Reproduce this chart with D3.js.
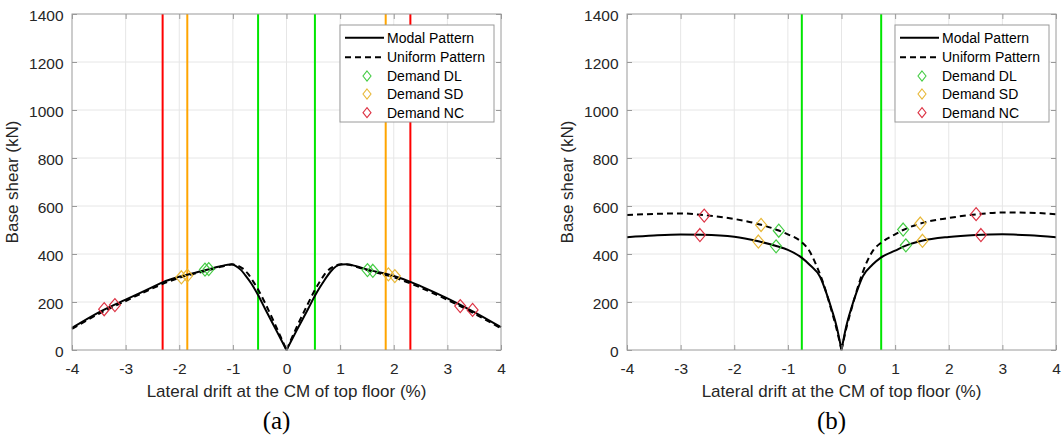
<!DOCTYPE html>
<html><head><meta charset="utf-8">
<script src="https://cdn.jsdelivr.net/npm/d3@7"></script>
<style>
body{margin:0;background:#fff}
svg{display:block}
text{font-family:Arial,"Liberation Sans",Helvetica,sans-serif}
</style>
</head><body>
<svg id="c" width="1062" height="435"></svg>
<script>
// ---------- data ----------
const xTicks = [-4,-3,-2,-1,0,1,2,3,4];
const yTicks = [0,200,400,600,800,1000,1200,1400];
const xTickLabels = ["-4","-3","-2","-1","0","1","2","3","4"];
const yTickLabels = ["0","200","400","600","800","1000","1200","1400"];
const legendLabels = ["Modal Pattern","Uniform Pattern","Demand DL","Demand SD","Demand NC"];
const xLabel = "Lateral drift at the CM of top floor (%)";
const yLabel = "Base shear (kN)";
const panelLabels = ["(a)","(b)"];

// Panel (a) pushover curves [drift %, base shear kN]
const modalA = [[-4,92],[-3.5,157],[-3,210],[-2.5,262],[-2.3,283],[-2,305],[-1.5,333],[-1.25,348],[-1.02,357],[-0.95,351],[-0.85,334],[-0.77,312],[-0.65,275],[-0.53,229],[-0.4,172],[-0.2,86],[0,0],
  [0.2,86],[0.4,170],[0.53,226],[0.62,260],[0.72,295],[0.82,326],[0.92,348],[1.02,356],[1.12,357],[1.3,349],[1.5,336],[2,308],[2.3,285],[2.5,266],[3,215],[3.5,158],[4,95]];
const uniformA = [[-4,88],[-3.5,151],[-3,204],[-2.5,257],[-2,301],[-1.5,330],[-1.2,348],[-1.02,356],[-0.92,352],[-0.82,340],[-0.72,318],[-0.62,285],[-0.53,252],[-0.4,196],[-0.2,100],[0,0],
  [0.2,100],[0.4,193],[0.53,250],[0.62,284],[0.72,318],[0.82,340],[0.92,352],[1.02,357],[1.12,356],[1.5,333],[2,303],[2.5,260],[3,209],[3.5,152],[4,90]];
const demandDL_A = [[-1.52,335],[-1.45,337],[1.51,333],[1.61,330]];
const demandSD_A = [[-1.96,303],[-1.85,310],[1.90,315],[2.02,308]];
const demandNC_A = [[-3.40,170],[-3.20,187],[3.24,183],[3.47,167]];
const limitDL_A = [-0.53,0.53];
const limitSD_A = [-1.85,1.85];
const limitNC_A = [-2.31,2.31];

// Panel (b)
const modalB = [[-4,470],[-3.5,477],[-3,481],[-2.6,480],[-2,472],[-1.55,453],[-1.2,432],[-1,417],[-0.75,386],[-0.59,354],[-0.4,305],[-0.28,236],[-0.18,167],[-0.09,97],[0,0],
  [0.09,100],[0.18,172],[0.28,240],[0.4,308],[0.58,356],[0.74,386],[1,414],[1.2,435],[1.5,455],[2,471],[2.5,479],[3,482],[3.5,478],[4,470]];
const uniformB = [[-4,562],[-3.5,567],[-3,569],[-2.56,562],[-2,546],[-1.5,522],[-1.17,498],[-1,482],[-0.75,451],[-0.62,420],[-0.46,348],[-0.33,272],[-0.2,175],[-0.1,95],[0,0],
  [0.1,100],[0.2,182],[0.33,280],[0.45,355],[0.6,418],[0.74,447],[1,482],[1.15,500],[1.47,527],[2,550],[2.5,565],[3,573],[3.5,572],[4,566]];
const demandDL_B = [[-1.22,432],[-1.17,497],[1.15,502],[1.2,436]];
const demandSD_B = [[-1.55,452],[-1.5,521],[1.47,527],[1.51,455]];
const demandNC_B = [[-2.64,479],[-2.56,560],[2.51,566],[2.60,479]];
const limitDL_B = [-0.74,0.74];

// ---------- styles ----------
const C = {grid:"#e6e6e6", frame:"#9a9a9a", text:"#262626",
  lineDL:"#00e600", lineSD:"#ffa500", lineNC:"#ff0000",
  mkDL:"#44cc44", mkSD:"#e8b838", mkNC:"#dd3344"};

const svg = d3.select("#c");
const TOP = 14, BOTTOM = 350;

const panels = [
  {left:72, right:501, modal:modalA, uniform:uniformA,
   demands:[[demandDL_A,C.mkDL],[demandSD_A,C.mkSD],[demandNC_A,C.mkNC]],
   limits:[[limitNC_A,C.lineNC],[limitSD_A,C.lineSD],[limitDL_A,C.lineDL]], label:panelLabels[0]},
  {left:627, right:1056, modal:modalB, uniform:uniformB,
   demands:[[demandDL_B,C.mkDL],[demandSD_B,C.mkSD],[demandNC_B,C.mkNC]],
   limits:[[limitDL_B,C.lineDL]], label:panelLabels[1]}
];

function diamondPath(cx, cy, w, h){
  return `M${cx},${cy-h/2}L${cx+w/2},${cy}L${cx},${cy+h/2}L${cx-w/2},${cy}Z`;
}

panels.forEach(p => {
  const x = d3.scaleLinear().domain([-4,4]).range([p.left,p.right]);
  const y = d3.scaleLinear().domain([0,1400]).range([BOTTOM,TOP]);
  const g = svg.append("g");

  // grid
  g.append("g").selectAll("line").data(xTicks.slice(1,-1)).join("line")
    .attr("x1",d=>x(d)).attr("x2",d=>x(d)).attr("y1",TOP).attr("y2",BOTTOM)
    .attr("stroke",C.grid).attr("stroke-width",1);
  g.append("g").selectAll("line").data(yTicks.slice(1,-1)).join("line")
    .attr("y1",d=>y(d)).attr("y2",d=>y(d)).attr("x1",p.left).attr("x2",p.right)
    .attr("stroke",C.grid).attr("stroke-width",1);

  // limit lines
  p.limits.forEach(([vals,col]) => {
    g.append("g").selectAll("line").data(vals).join("line")
      .attr("x1",d=>x(d)).attr("x2",d=>x(d)).attr("y1",TOP).attr("y2",BOTTOM)
      .attr("stroke",col).attr("stroke-width",2);
  });

  // curves, split at zero so the tip stays sharp
  const line = d3.line().x(d=>x(d[0])).y(d=>y(d[1])).curve(d3.curveMonotoneX);
  const halves = arr => [arr.filter(d=>d[0]<=0), arr.filter(d=>d[0]>=0)];
  const pathOf = arr => halves(arr).map(h=>line(h)).join("");
  g.append("path").attr("d",pathOf(p.uniform)).attr("fill","none")
    .attr("stroke","#000").attr("stroke-width",2).attr("stroke-dasharray","6,4");
  g.append("path").attr("d",pathOf(p.modal)).attr("fill","none")
    .attr("stroke","#000").attr("stroke-width",2);

  // demand markers
  p.demands.forEach(([pts,col]) => {
    g.append("g").selectAll("path").data(pts).join("path")
      .attr("d",d=>diamondPath(x(d[0]),y(d[1]),11,13))
      .attr("fill","none").attr("stroke",col).attr("stroke-width",1.2);
  });

  // frame
  g.append("rect").attr("x",p.left).attr("y",TOP).attr("width",p.right-p.left).attr("height",BOTTOM-TOP)
    .attr("fill","none").attr("stroke",C.frame).attr("stroke-width",1);

  // axes
  const ax = g.append("g").attr("transform",`translate(0,${BOTTOM})`)
    .call(d3.axisBottom(x).tickValues(xTicks).tickFormat((d,i)=>xTickLabels[i])
      .tickSizeInner(-5).tickSizeOuter(0).tickPadding(12.5));
  const axT = g.append("g").attr("transform",`translate(0,${TOP})`)
    .call(d3.axisTop(x).tickValues(xTicks).tickSizeInner(-5).tickSizeOuter(0).tickFormat(""));
  const ay = g.append("g").attr("transform",`translate(${p.left},0)`)
    .call(d3.axisLeft(y).tickValues(yTicks).tickFormat((d,i)=>yTickLabels[i])
      .tickSizeInner(-5).tickSizeOuter(0).tickPadding(8.5));
  const ayR = g.append("g").attr("transform",`translate(${p.right},0)`)
    .call(d3.axisRight(y).tickValues(yTicks).tickSizeInner(-5).tickSizeOuter(0).tickFormat(""));
  [ax,axT,ay,ayR].forEach(a=>{
    a.select(".domain").remove();
    a.selectAll(".tick line").attr("stroke",C.frame);
    a.selectAll("text").attr("fill",C.text).style("font-size","15.5px")
      .style("font-family","Arial,'Liberation Sans',sans-serif");
  });
  ay.selectAll("text").attr("dy","0.45em");

  // axis labels
  const cx = (p.left+p.right)/2, cy = (TOP+BOTTOM)/2;
  g.append("text").attr("x",cx).attr("y",397).attr("text-anchor","middle")
    .attr("fill",C.text).style("font-size","17px").text(xLabel);
  g.append("text").attr("transform",`translate(${p.left-54},${cy}) rotate(-90)`)
    .attr("text-anchor","middle").attr("fill",C.text).style("font-size","17px").text(yLabel);
  g.append("text").attr("x",cx-10).attr("y",429).attr("text-anchor","middle")
    .attr("fill","#000").style("font-family","'Liberation Serif','Times New Roman',serif")
    .style("font-size","25px").text(p.label);

  // legend
  const lx = p.left+268, ly = 25, lw = 154, lh = 97;
  const lg = g.append("g");
  lg.append("rect").attr("x",lx).attr("y",ly).attr("width",lw).attr("height",lh)
    .attr("fill","#fff").attr("stroke",C.frame).attr("stroke-width",1);
  const rows = [12.7,32.3,51,69,87.7];
  const kinds = [
    {type:"line", dash:null},
    {type:"line", dash:"6,4"},
    {type:"mk", col:C.mkDL},
    {type:"mk", col:C.mkSD},
    {type:"mk", col:C.mkNC}];
  kinds.forEach((k,i)=>{
    const yy = ly+rows[i];
    if(k.type==="line"){
      const l = lg.append("line").attr("x1",lx+5).attr("x2",lx+44).attr("y1",yy).attr("y2",yy)
        .attr("stroke","#000").attr("stroke-width",2);
      if(k.dash) l.attr("stroke-dasharray",k.dash);
    } else {
      lg.append("path").attr("d",diamondPath(lx+27,yy,8,10)).attr("fill","none")
        .attr("stroke",k.col).attr("stroke-width",1.1);
    }
    lg.append("text").attr("x",lx+47).attr("y",yy).attr("dy","0.36em")
      .attr("fill","#000").style("font-size","14px").text(legendLabels[i]);
  });
});
</script>
</body></html>
